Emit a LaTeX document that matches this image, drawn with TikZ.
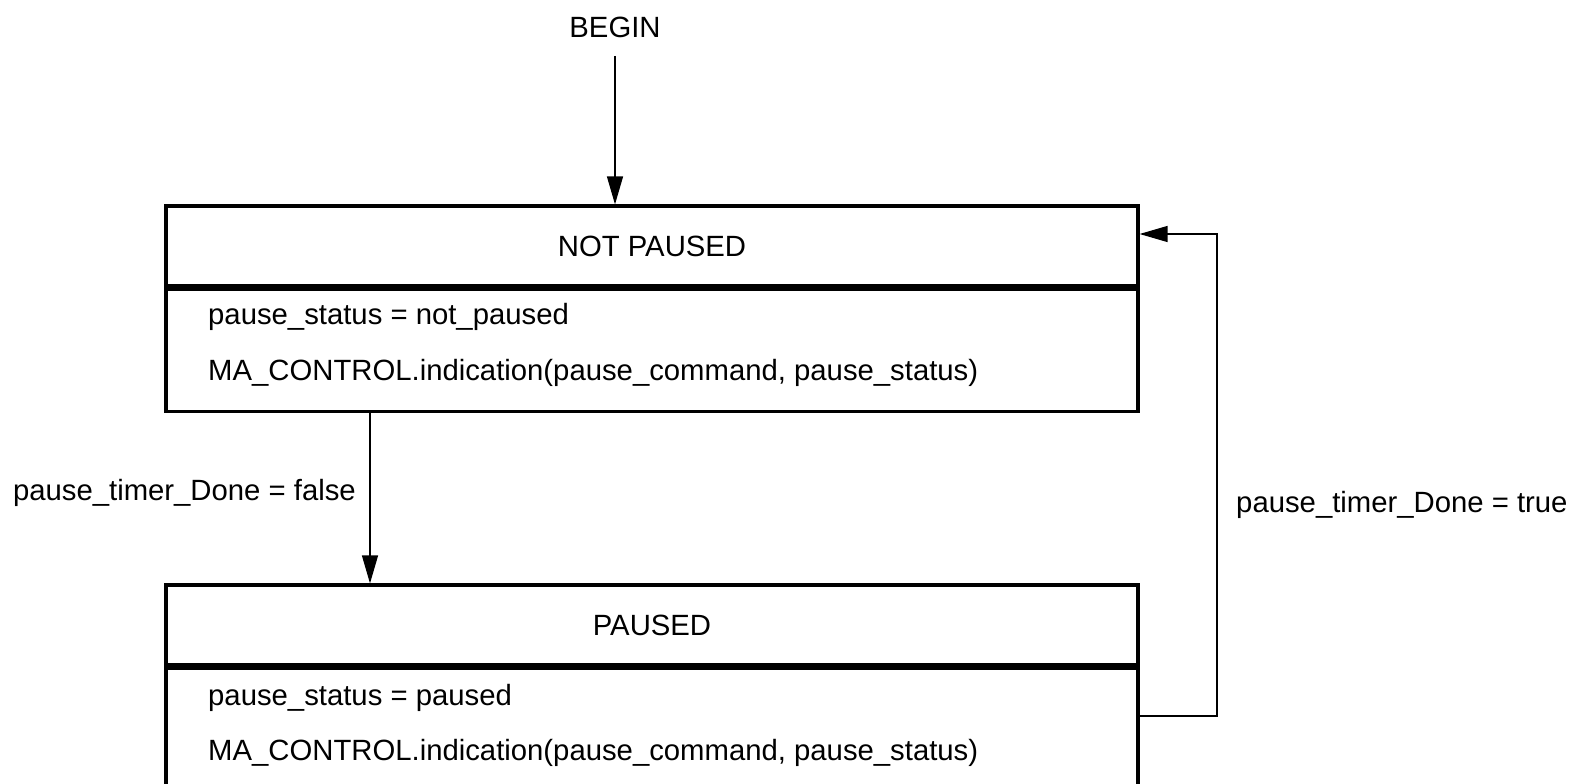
\documentclass[tikz,border=0pt]{standalone}
\usepackage{fontspec}
\setmainfont{Liberation Sans}
\usetikzlibrary{arrows.meta}

\begin{document}
\begin{tikzpicture}[x=1bp,y=-1bp,
        font=\fontsize{29.4}{35}\selectfont,
        statebox/.style={draw,line width=3.2bp,minimum width=972bp,inner sep=0pt},
        flow/.style={line width=1.3bp,-{Triangle[length=28bp,width=16bp]}},
        lbl/.style={inner sep=0pt}]
            \clip (0,0) rectangle (1584,784);

            \node (begin) at (615,27) {BEGIN};

            % not paused
            \node[statebox,minimum height=80bp] (np) at (652,246) {NOT PAUSED};
            \node[statebox,minimum height=122bp,anchor=north] (npbody) at (np.south) {};
            \node[lbl,anchor=west] (npstatus) at (208,317) {pause\_status = not\_paused};
            \node[lbl,anchor=west] (npind) at (208,373) {MA\_CONTROL.indication(pause\_command, pause\_status)};

            % paused
            \node[statebox,minimum height=80bp] (p) at (652,625) {PAUSED};
            \node[statebox,minimum height=140bp,anchor=north] (pbody) at (p.south) {};
            \node[lbl,anchor=west] (pstatus) at (208,698) {pause\_status = paused};
            \node[lbl,anchor=west] (pind) at (208,753) {MA\_CONTROL.indication(pause\_command, pause\_status)};

            % transitions
            \draw[flow,shorten <=15bp] (begin.south) -- (begin |- np.north);

            \coordinate (fork) at (370,0);
            \draw[flow] (fork |- npbody.south) -- (fork |- p.north);
            \node[lbl,anchor=east] (falselbl) at (356,493) {pause\_timer\_Done = false};

            \coordinate (loop) at (1217,716);
            \coordinate (ret) at (1217,234);
            \draw[flow] (loop -| pbody.east) -- (loop) -- (ret) -- (ret -| np.east);
            \node[lbl,anchor=west] (truelbl) at (1236,505) {pause\_timer\_Done = true};
        \end{tikzpicture}
\end{document}
